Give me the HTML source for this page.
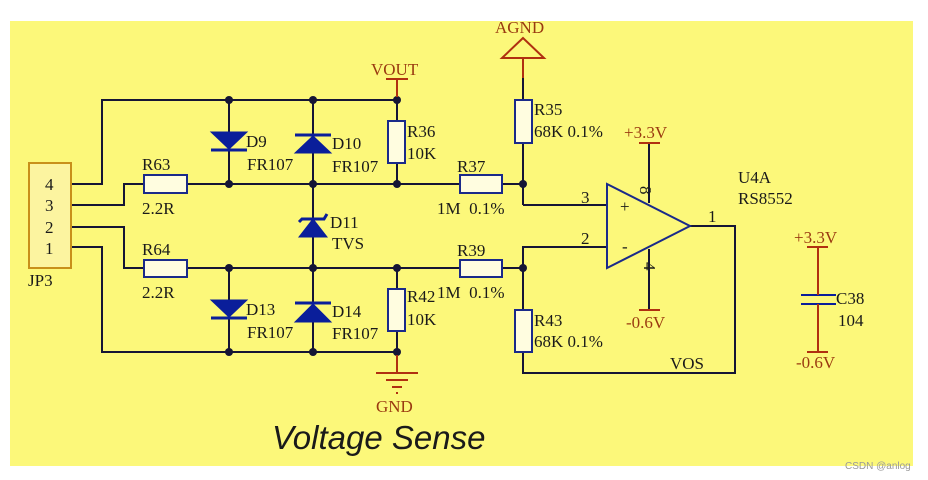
<!DOCTYPE html>
<html><head><meta charset="utf-8"><style>
body{margin:0;background:#fff;}
svg{display:block}
text{font-family:"Liberation Serif",serif;font-size:17px;fill:#1a1a1a}
.r{fill:#9a3a10}
</style></head><body>
<svg width="928" height="480" viewBox="0 0 928 480">
<rect x="10" y="21" width="903" height="445" fill="#fcf87a"/>
<g stroke="#151535" stroke-width="2" fill="none">
<polyline points="71,184 102,184 102,100 397,100"/>
<polyline points="71,205 124,205 124,184 144,184"/>
<line x1="187" y1="184" x2="460" y2="184"/>
<polyline points="71,227 124,227 124,268 144,268"/>
<line x1="187" y1="268" x2="460" y2="268"/>
<polyline points="71,247 102,247 102,352 397,352"/>
<line x1="229" y1="100" x2="229" y2="184"/><line x1="313" y1="100" x2="313" y2="268"/>
<line x1="229" y1="268" x2="229" y2="352"/><line x1="313" y1="268" x2="313" y2="352"/>
<line x1="397" y1="100" x2="397" y2="121"/><line x1="397" y1="163" x2="397" y2="184"/>
<line x1="397" y1="268" x2="397" y2="289"/><line x1="397" y1="331" x2="397" y2="352"/>
<line x1="502" y1="184" x2="523" y2="184"/><line x1="502" y1="268" x2="523" y2="268"/>
<line x1="523" y1="78" x2="523" y2="100"/><line x1="523" y1="143" x2="523" y2="205"/>
<polyline points="523,205 607,205"/>
<polyline points="607,247 523,247 523,310"/>
<polyline points="523,352 523,373 735,373 735,226 690,226"/>
<polygon points="607,184 607,268 690,226" stroke="#1a2a8a"/>
<line x1="649" y1="143" x2="649" y2="203"/><line x1="649" y1="249" x2="649" y2="310"/>
</g>
<g fill="#151535">
<circle cx="229" cy="100" r="4"/><circle cx="313" cy="100" r="4"/><circle cx="397" cy="100" r="4"/>
<circle cx="229" cy="184" r="4"/><circle cx="313" cy="184" r="4"/><circle cx="397" cy="184" r="4"/>
<circle cx="229" cy="268" r="4"/><circle cx="313" cy="268" r="4"/><circle cx="397" cy="268" r="4"/>
<circle cx="229" cy="352" r="4"/><circle cx="313" cy="352" r="4"/><circle cx="397" cy="352" r="4"/>
<circle cx="523" cy="184" r="4"/><circle cx="523" cy="268" r="4"/>
</g>
<g stroke="#1a2a8a" stroke-width="2" fill="#fffde0">
<rect x="144" y="175" width="43" height="18"/><rect x="144" y="260" width="43" height="17"/>
<rect x="388" y="121" width="17" height="42"/><rect x="388" y="289" width="17" height="42"/>
<rect x="460" y="175" width="42" height="18"/><rect x="460" y="260" width="42" height="17"/>
<rect x="515" y="100" width="17" height="43"/><rect x="515" y="310" width="17" height="42"/>
</g>
<g fill="#0a1e9a" stroke="#0a1e9a" stroke-width="3">
<polygon points="211,132 247,132 229,149" stroke-width="1"/><line x1="211" y1="150" x2="247" y2="150"/>
<polygon points="295,153 331,153 313,136" stroke-width="1"/><line x1="295" y1="135" x2="331" y2="135"/>
<polygon points="211,300 247,300 229,317" stroke-width="1"/><line x1="211" y1="318" x2="247" y2="318"/>
<polygon points="295,322 331,322 313,304" stroke-width="1"/><line x1="295" y1="303" x2="331" y2="303"/>
<polygon points="299,237 327,237 313,219" stroke-width="1"/><polyline points="299,222 302,219 324,219 327,214" fill="none"/>
<line x1="801" y1="295" x2="836" y2="295" stroke-width="2"/><line x1="801" y1="304" x2="836" y2="304" stroke-width="2"/>
</g>
<g stroke="#b03010" stroke-width="2" fill="none">
<line x1="386" y1="79" x2="408" y2="79"/><line x1="397" y1="79" x2="397" y2="97"/>
<polygon points="523,38 502,58 544,58"/><line x1="523" y1="58" x2="523" y2="78"/>
<line x1="639" y1="143" x2="660" y2="143"/><line x1="639" y1="310" x2="660" y2="310"/>
<line x1="397" y1="355" x2="397" y2="373"/><line x1="376" y1="373" x2="418" y2="373"/>
<line x1="386" y1="380" x2="408" y2="380"/><line x1="392" y1="387" x2="402" y2="387"/><line x1="396" y1="393" x2="398" y2="393"/>
<line x1="807" y1="247" x2="828" y2="247"/><line x1="818" y1="247" x2="818" y2="295"/>
<line x1="818" y1="304" x2="818" y2="352"/><line x1="807" y1="352" x2="828" y2="352"/>
</g>
<rect x="29" y="163" width="42" height="105" fill="#fcf4a0" stroke="#c8901a" stroke-width="2"/>
<text x="45" y="190">4</text><text x="45" y="211">3</text><text x="45" y="233">2</text><text x="45" y="254">1</text>
<text x="28" y="286">JP3</text>
<text x="142" y="170">R63</text><text x="142" y="214">2.2R</text>
<text x="142" y="255">R64</text><text x="142" y="298">2.2R</text>
<text x="246" y="147">D9</text><text x="247" y="170">FR107</text>
<text x="332" y="149">D10</text><text x="332" y="172">FR107</text>
<text x="330" y="228">D11</text><text x="332" y="249">TVS</text>
<text x="246" y="315">D13</text><text x="247" y="338">FR107</text>
<text x="332" y="317">D14</text><text x="332" y="339">FR107</text>
<text x="407" y="137">R36</text><text x="407" y="159">10K</text>
<text x="407" y="302">R42</text><text x="407" y="325">10K</text>
<text x="457" y="172">R37</text><text x="437" y="214">1M &#160;0.1%</text>
<text x="457" y="256">R39</text><text x="437" y="298">1M &#160;0.1%</text>
<text x="534" y="115">R35</text><text x="534" y="137">68K 0.1%</text>
<text x="534" y="326">R43</text><text x="534" y="347">68K 0.1%</text>
<text x="581" y="203" font-size="15">3</text><text x="581" y="244" font-size="15">2</text>
<text x="620" y="212">+</text><text x="622" y="252">-</text>
<text x="708" y="222" font-size="15">1</text>
<text x="738" y="183">U4A</text><text x="738" y="204">RS8552</text>
<text x="670" y="369">VOS</text>
<text x="836" y="304">C38</text><text x="838" y="326">104</text>
<text class="r" x="371" y="75">VOUT</text>
<text class="r" x="495" y="33">AGND</text>
<text class="r" x="624" y="138">+3.3V</text>
<text class="r" x="626" y="328">-0.6V</text>
<text class="r" x="794" y="243">+3.3V</text>
<text class="r" x="796" y="368">-0.6V</text>
<text class="r" x="376" y="412">GND</text>
<text x="640" y="186" font-size="14" transform="rotate(90 640 186)">8</text>
<text x="644" y="262" font-size="14" transform="rotate(90 644 262)">4</text>
<text x="272" y="449" style="font-family:'Liberation Sans',sans-serif;font-style:italic;font-size:33px;fill:#1a1a1a">Voltage Sense</text>
<text x="845" y="469" style="font-family:'Liberation Sans',sans-serif;font-size:10px;fill:#999">CSDN @anlog</text>
</svg>
</body></html>
